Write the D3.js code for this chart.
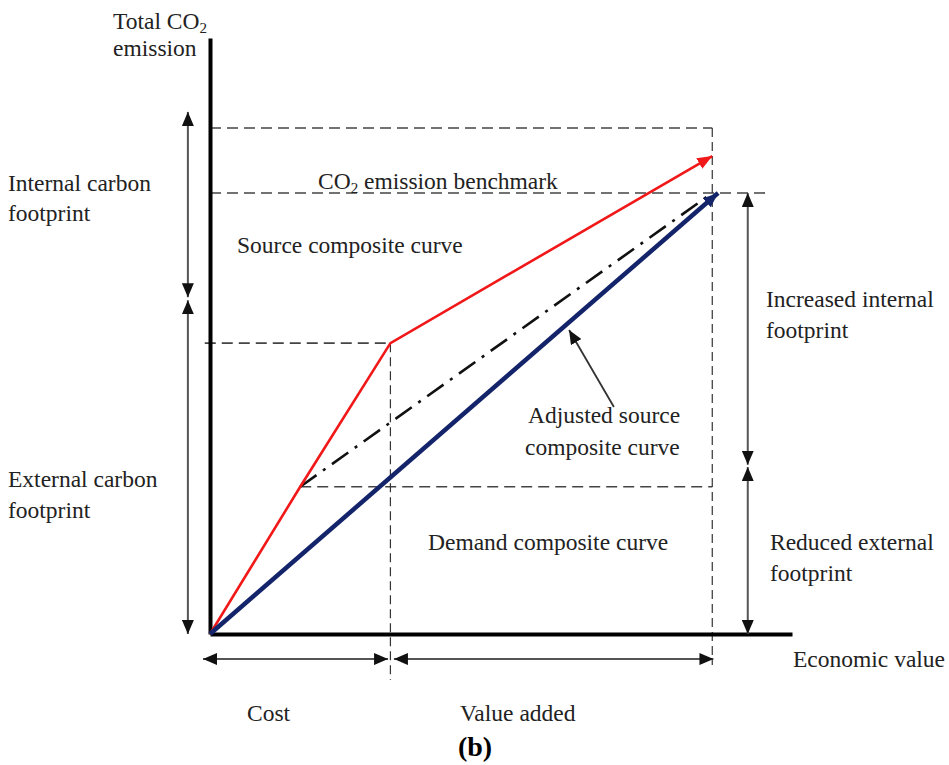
<!DOCTYPE html>
<html>
<head>
<meta charset="utf-8">
<script src="https://cdn.jsdelivr.net/npm/d3@7"></script>
<style>
    body { margin: 0; background: #fff; }
</style>
</head>
<body>
<svg id="chart"></svg>
<script>
// curve points (economic value, CO2 emission), arbitrary units 0-100
var sourceX = [0, 15.5, 31, 86.3];
var sourceY = [0, 24.7, 48.8, 80.2];
var demandX = [0, 87.3];
var demandY = [0, 74];
var adjustedX = [15.5, 86.3];
var adjustedY = [24.7, 74];

// dashed guide lines [x1, y1, x2, y2]
var guideH = [[0, 84.9, 86.3, 84.9], [0, 74, 95.4, 74], [-0.9, 48.8, 31, 48.8], [15.5, 24.7, 86.3, 24.7]];
var guideV = [[86.3, 84.9, 86.3, -5.2], [31, 48.8, 31, -7.7]];

// double-headed dimension arrows [x1, y1, x2, y2]
var dimArrows = [
    [-3.8, 87.6, -3.8, 56.5], [-3.8, 56, -3.8, 0],
    [92.4, 74, 92.4, 28.4], [92.4, 28, 92.4, 0],
    [-1.2, -4.2, 30.6, -4.2], [31.6, -4.2, 86.5, -4.2]
];
var pointer = [69.4, 38.1, 61.7, 51];

var width = 949, height = 765;
var fontFamily = "'Liberation Serif', 'Times New Roman', Times, 'DejaVu Serif', serif";

var svg = d3.select('#chart')
    .attr("width", width)
    .attr("height", height)
    .attr("font-family", fontFamily);

var xScale = d3.scaleLinear().domain([0, 100]).range([210, 792]);
var yScale = d3.scaleLinear().domain([0, 100]).range([634, 38]);

// arrow heads
var defs = svg.append("defs");
function addMarker(id, color, len, wid) {
    defs.append("marker")
        .attr("id", id)
        .attr("markerUnits", "userSpaceOnUse")
        .attr("viewBox", "0 0 " + len + " " + wid)
        .attr("refX", len)
        .attr("refY", wid / 2)
        .attr("markerWidth", len)
        .attr("markerHeight", wid)
        .attr("orient", "auto-start-reverse")
        .append("path")
        .attr("d", "M0,0L" + len + "," + (wid / 2) + "L0," + wid + "Z")
        .attr("fill", color);
}
addMarker("head-black", "#111", 14, 12);
addMarker("head-red", "#f01818", 15, 12);
addMarker("head-blue", "#14246a", 15, 12);

// dashed guides
svg.append("g").selectAll("line")
    .data(guideH)
    .enter()
    .append("line")
    .attr("x1", function (d) { return xScale(d[0]); })
    .attr("y1", function (d) { return yScale(d[1]); })
    .attr("x2", function (d) { return xScale(d[2]); })
    .attr("y2", function (d) { return yScale(d[3]); })
    .attr("stroke", "#444")
    .attr("stroke-width", 1.6)
    .attr("stroke-dasharray", "11,6");

svg.append("g").selectAll("line")
    .data(guideV)
    .enter()
    .append("line")
    .attr("x1", function (d) { return xScale(d[0]); })
    .attr("y1", function (d) { return yScale(d[1]); })
    .attr("x2", function (d) { return xScale(d[2]); })
    .attr("y2", function (d) { return yScale(d[3]); })
    .attr("stroke", "#333")
    .attr("stroke-width", 1.2)
    .attr("stroke-dasharray", "9,5");

// axes, no ticks
svg.append("g")
    .attr("transform", "translate(" + xScale(0) + ",0)")
    .call(d3.axisLeft(yScale).tickValues([]).tickSizeOuter(0))
    .select(".domain").attr("stroke", "#000").attr("stroke-width", 4);
svg.append("g")
    .attr("transform", "translate(0," + yScale(0) + ")")
    .call(d3.axisBottom(xScale).tickValues([]).tickSizeOuter(0))
    .select(".domain").attr("stroke", "#000").attr("stroke-width", 4);

var line = d3.line()
    .x(function (d) { return xScale(d[0]); })
    .y(function (d) { return yScale(d[1]); });

// adjusted source composite curve (dash-dot)
svg.append("path")
    .datum(d3.zip(adjustedX, adjustedY))
    .attr("d", line)
    .attr("fill", "none")
    .attr("stroke", "#111")
    .attr("stroke-width", 2.6)
    .attr("stroke-dasharray", "20,8,3,8");

// source composite curve
svg.append("path")
    .datum(d3.zip(sourceX, sourceY))
    .attr("d", line)
    .attr("fill", "none")
    .attr("stroke", "#f01818")
    .attr("stroke-width", 2.6)
    .attr("marker-end", "url(#head-red)");

// demand composite curve
svg.append("path")
    .datum(d3.zip(demandX, demandY))
    .attr("d", line)
    .attr("fill", "none")
    .attr("stroke", "#14246a")
    .attr("stroke-width", 4.5)
    .attr("marker-end", "url(#head-blue)");

// dimension arrows
svg.append("g").selectAll("line")
    .data(dimArrows)
    .enter()
    .append("line")
    .attr("x1", function (d) { return xScale(d[0]); })
    .attr("y1", function (d) { return yScale(d[1]); })
    .attr("x2", function (d) { return xScale(d[2]); })
    .attr("y2", function (d) { return yScale(d[3]); })
    .attr("stroke", "#555")
    .attr("stroke-width", 2)
    .attr("marker-start", "url(#head-black)")
    .attr("marker-end", "url(#head-black)");

// pointer to adjusted curve
svg.append("line")
    .attr("x1", xScale(pointer[0]))
    .attr("y1", yScale(pointer[1]))
    .attr("x2", xScale(pointer[2]))
    .attr("y2", yScale(pointer[3]))
    .attr("stroke", "#333")
    .attr("stroke-width", 1.8)
    .attr("marker-end", "url(#head-black)");

// labels
var labels = [
    { x: 113, y: 29, t: "Total CO", sub: "2" },
    { x: 113, y: 56, t: "emission" },
    { x: 8, y: 191, t: "Internal carbon" },
    { x: 8, y: 221, t: "footprint" },
    { x: 318, y: 189, t: "CO", sub: "2", rest: " emission benchmark" },
    { x: 237, y: 253, t: "Source composite curve" },
    { x: 766, y: 307, t: "Increased internal" },
    { x: 766, y: 338, t: "footprint" },
    { x: 528, y: 423, t: "Adjusted source" },
    { x: 525, y: 455, t: "composite curve" },
    { x: 8, y: 487, t: "External carbon" },
    { x: 8, y: 518, t: "footprint" },
    { x: 428, y: 550, t: "Demand composite curve" },
    { x: 770, y: 550, t: "Reduced external" },
    { x: 770, y: 581, t: "footprint" },
    { x: 793, y: 667, t: "Economic value" },
    { x: 247, y: 721, t: "Cost" },
    { x: 460, y: 721, t: "Value added" }
];

var texts = svg.append("g").selectAll("text")
    .data(labels)
    .enter()
    .append("text")
    .attr("x", function (d) { return d.x; })
    .attr("y", function (d) { return d.y; })
    .attr("fill", "#222")
    .attr("font-size", "23.5px");
texts.append("tspan").text(function (d) { return d.t; });
texts.filter(function (d) { return d.sub; })
    .append("tspan")
    .attr("font-size", "15px")
    .attr("dy", 4)
    .text(function (d) { return d.sub; });
texts.filter(function (d) { return d.rest; })
    .append("tspan")
    .attr("dy", -4)
    .text(function (d) { return d.rest; });

svg.append("text")
    .attr("x", 475)
    .attr("y", 756)
    .attr("text-anchor", "middle")
    .attr("font-size", "28px")
    .attr("font-weight", "bold")
    .attr("fill", "#000")
    .text("(b)");
</script>
</body>
</html>
